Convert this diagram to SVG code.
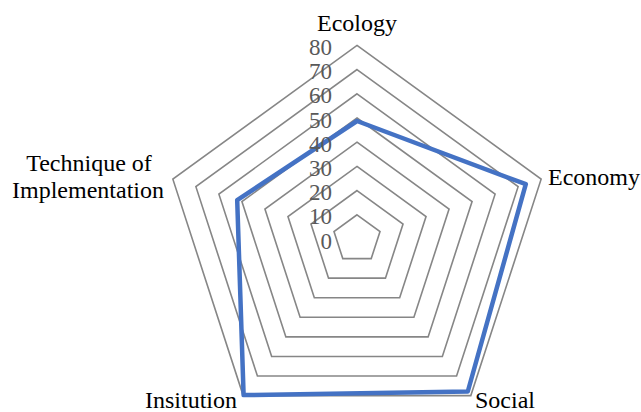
<svg xmlns="http://www.w3.org/2000/svg" width="641" height="412" viewBox="0 0 641 412">
<style>
.grid{fill:none;stroke:#868686;stroke-width:1.6;stroke-linejoin:miter}
.series{fill:none;stroke:#4472C4;stroke-width:4.5;stroke-linejoin:round}
.tick{font-size:23px;fill:#595959;text-anchor:end}
.cat{font-size:24px;fill:#000}
</style>
<rect width="641" height="412" fill="#fff"/>
<g id="grid">
<polygon class="grid" points="357,214.8 380.02,231.52 371.22,258.58 342.78,258.58 333.98,231.52"/>
<polygon class="grid" points="357,190.6 403.03,224.04 385.45,278.16 328.55,278.16 310.97,224.04"/>
<polygon class="grid" points="357,166.4 426.05,216.57 399.67,297.73 314.33,297.73 287.95,216.57"/>
<polygon class="grid" points="357,142.2 449.07,209.09 413.90,317.31 300.10,317.31 264.93,209.09"/>
<polygon class="grid" points="357,118 472.08,201.61 428.12,336.89 285.88,336.89 241.92,201.61"/>
<polygon class="grid" points="357,93.8 495.10,194.13 442.35,356.47 271.65,356.47 218.90,194.13"/>
<polygon class="grid" points="357,69.6 518.12,186.66 456.57,376.04 257.43,376.04 195.88,186.66"/>
<polygon class="grid" points="357,45.4 541.13,179.18 470.80,395.62 243.20,395.62 172.87,179.18"/>
</g>
<g id="connectors">
<polygon id="series" class="series" points="357,121 525.8,184.2 467.8,391.5 243.6,395.1 237.2,200.1"/>
</g>
<g font-family="'Liberation Serif', 'Times New Roman', 'DejaVu Serif', serif">
<g id="ticks">
<text class="tick" x="332" y="248.5">0</text>
<text class="tick" x="332" y="224.3">10</text>
<text class="tick" x="332" y="200.1">20</text>
<text class="tick" x="332" y="175.9">30</text>
<text class="tick" x="332" y="151.7">40</text>
<text class="tick" x="332" y="127.5">50</text>
<text class="tick" x="332" y="103.3">60</text>
<text class="tick" x="332" y="79.1">70</text>
<text class="tick" x="332" y="54.9">80</text>
</g>
<g id="ecology"><text class="cat" x="357" y="31" text-anchor="middle">Ecology</text></g>
<g id="economy"><text class="cat" x="548" y="185">Economy</text></g>
<g id="social"><text class="cat" x="475" y="408">Social</text></g>
<g id="insitution"><text class="cat" x="191" y="408" text-anchor="middle">Insitution</text></g>
<g id="technique"><text class="cat" x="89" y="171" text-anchor="middle">Technique of</text><text class="cat" x="88" y="198" text-anchor="middle">Implementation</text></g>
</g>
</svg>
